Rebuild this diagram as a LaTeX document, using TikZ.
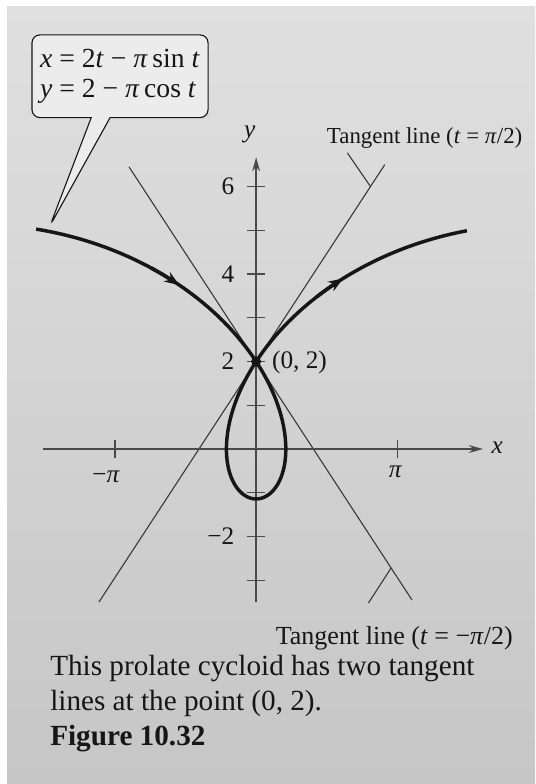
\documentclass[tikz,border=0pt]{standalone}
\usepackage{fontspec}
\setmainfont{Liberation Serif}
\usetikzlibrary{arrows.meta,positioning,calc,shapes.callouts}
\definecolor{papertop}{HTML}{E0E0E0}
\definecolor{paperlow}{HTML}{C6C6C6}
\definecolor{axisgray}{HTML}{4A4A4A}
\definecolor{ink}{HTML}{161616}
\newcommand{\vi}[1]{\textit{#1}}

\begin{document}
\begin{tikzpicture}[x=1cm, y=0.974cm,
  axisline/.style={axisgray, line width=0.8pt},
  tangentline/.style={ink!85, line width=0.7pt},
  curveline/.style={ink, line width=2.2pt},
  ticklbl/.style={font=\fontsize{16}{18}\selectfont, ink},
  lbl/.style={font=\fontsize{16}{18}\selectfont, ink, inner sep=2pt}]
  \useasboundingbox (-5.702,-7.657) rectangle (6.214,10.263);
  \fill[white] (-5.702,-7.657) rectangle (6.214,10.263);
  \shade[top color=papertop, bottom color=paperlow] (-5.546,-7.657) rectangle (6.214,10.103);

  \coordinate (A1) at (-3.50,-3.5);
  \coordinate (A2) at (2.865,6.5);
  \coordinate (B1) at (-2.83,6.45);
  \coordinate (B2) at (3.47,-3.45);
  \draw[tangentline] (A1) -- (A2);
  \draw[tangentline] (B1) -- (B2);

  \draw[axisline, -{Stealth[length=9pt,width=5pt]}] (-4.74,0) -- (5.05,0);
  \draw[axisline, -{Stealth[length=9pt,width=5pt]}] (0,-3.5) -- (0,6.67);
  \foreach \k in {-3,-2,-1,1,2,3,4,5,6}
    \draw[axisline] (-0.2,\k) -- (0.2,\k);
  \foreach \s in {-1,1}
    \draw[axisline] ({\s*pi},-0.2) -- ({\s*pi},0.2);
  \foreach \k/\txt [count=\i] in {-2/−2, 2/2, 4/4, 6/6}
    \node[ticklbl, anchor=east] (ylab\i) at (-0.36,\k) {\txt};
  \node[ticklbl] (xneg) at (-3.34,-0.64) {−\vi{π}};
  \node[ticklbl] (xpos) at (3.10,-0.53) {\vi{π}};
  \node[ticklbl] (xname) at (5.37,0.02) {\vi{x}};
  \node[ticklbl] (yname) at (-0.14,7.18) {\vi{y}};

  \draw[curveline] plot[domain=-2.87:2.83, samples=160, variable=\u]
      ({2*\u - pi*sin(\u r)}, {2 - pi*cos(\u r)});
  \foreach \a/\b in {-2.32/-2.16, 2.06/2.22}
    \draw[curveline, -{Stealth[length=9.5pt,width=7pt]}]
      plot[domain=\a:\b, samples=6, variable=\u]
      ({2*\u - pi*sin(\u r)}, {2 - pi*cos(\u r)});
  \node[circle, fill=ink, inner sep=0pt, minimum size=0.22cm] (pt) at (0,2) {};
  \node[lbl, anchor=west] (ptlbl) at (0.28,1.97) {(0, 2)};

  \node[lbl, anchor=west, font=\fontsize{14.5}{17}\selectfont] (tanA) at (1.50,7.11)
    {Tangent line (\vi{t} = \vi{π}/2)};
  \node[lbl, anchor=west, font=\fontsize{16.5}{18}\selectfont] (tanB) at (0.36,-4.32)
    {Tangent line (\vi{t} = −\vi{π}/2)};
  \coordinate (legA) at (2.03,6.77);
  \coordinate (tA) at (2.546,6.0);
  \coordinate (legB) at (2.50,-3.52);
  \coordinate (tB) at (3.005,-2.72);
  \draw[tangentline] (legA) -- (tA);
  \draw[tangentline] (legB) -- (tB);

  \coordinate (tip) at (-4.59,5.1);
  \node[rectangle callout, callout absolute pointer={(tip)}, callout pointer width=0.42cm,
        draw=ink, line width=0.7pt, rounded corners=5pt, fill=papertop!60!white,
        minimum width=3.92cm, minimum height=1.84cm, align=left,
        font=\fontsize{17.5}{19.5}\selectfont, text=ink] (eqs) at (-3.03,8.52)
    {\vi{x} = 2\vi{t} − \vi{π}\,sin \vi{t}\\ \vi{y} = 2 − \vi{π}\,cos \vi{t}};

  \node[anchor=north west, align=left, inner sep=0pt, text=ink,
        font=\fontsize{18.5}{22.2}\selectfont] (cap) at (-4.59,-4.71)
    {This prolate cycloid has two tangent\\lines at the point (0, 2).\\\textbf{Figure 10.32}};
\end{tikzpicture}
\end{document}
